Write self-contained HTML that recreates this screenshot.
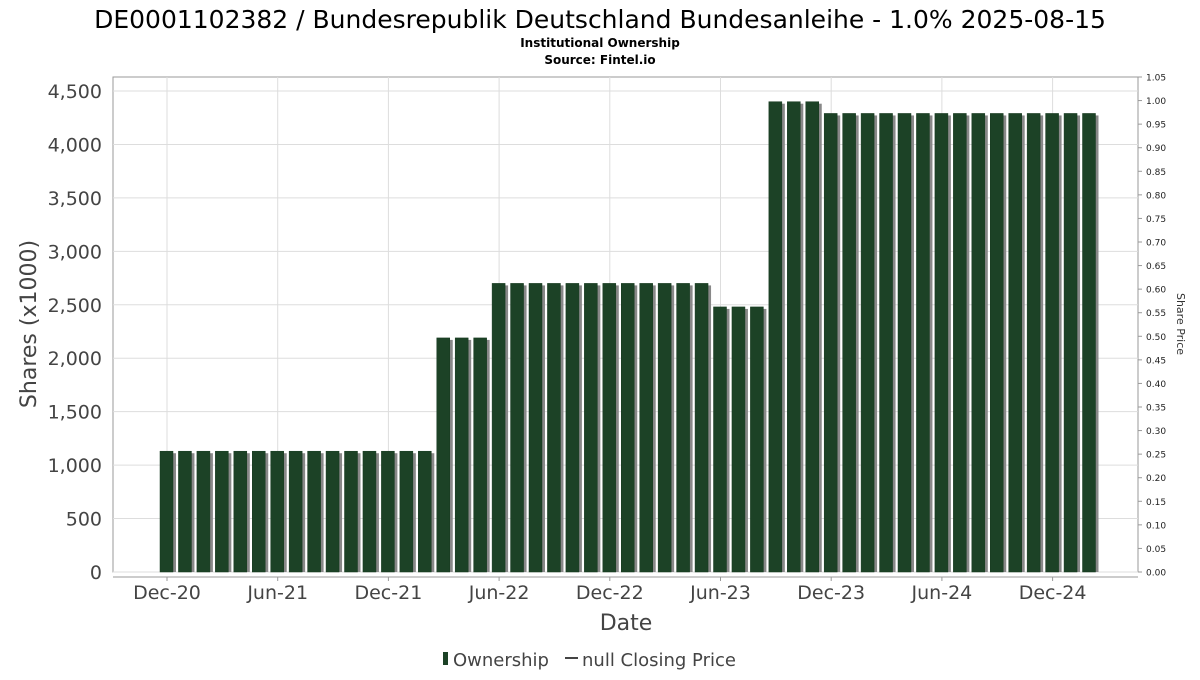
<!DOCTYPE html>
<html><head><meta charset="utf-8"><style>
body{margin:0;background:#fff;}
svg text{font-family:"DejaVu Sans","Liberation Sans",sans-serif;}
</style></head><body>
<svg id="chart" width="1200" height="675" xmlns="http://www.w3.org/2000/svg">
<text x="600" y="28" text-anchor="middle" font-size="25" fill="#000">DE0001102382 / Bundesrepublik Deutschland Bundesanleihe - 1.0% 2025-08-15</text>
<text x="600" y="47" text-anchor="middle" font-size="12" font-weight="bold">Institutional Ownership</text>
<text x="600" y="64" text-anchor="middle" font-size="12" font-weight="bold">Source: Fintel.io</text>
<rect x="113" y="77" width="1025" height="495" fill="#fff" stroke="#999"/>
<g id="grid"></g>
<g id="bars"></g>
<g id="yaxis"></g>
<g id="raxis"></g>
<g id="xaxis"></g>
<line x1="113" y1="577" x2="1138" y2="577" stroke="#999"/>
<text transform="translate(36,324) rotate(-90)" text-anchor="middle" font-size="22" fill="#444">Shares (x1000)</text>
<text transform="translate(1177,324) rotate(90)" text-anchor="middle" font-size="11" fill="#333">Share Price</text>
<text x="626" y="630" text-anchor="middle" font-size="22" fill="#444">Date</text>
<g>
<rect x="443" y="652" width="5" height="13" fill="#1c4226"/>
<text x="453" y="666" font-size="18" fill="#444">Ownership</text>
<line x1="565" y1="658" x2="578" y2="658" stroke="#444" stroke-width="2"/>
<text x="582" y="666" font-size="18" fill="#444">null Closing Price</text>
</g>
</svg>
<script>
const values = [1130,1130,1130,1130,1130,1130,1130,1130,1130,1130,1130,1130,1130,1130,1130,
2190,2190,2190,
2700,2700,2700,2700,2700,2700,2700,2700,2700,2700,2700,2700,
2480,2480,2480,
4400,4400,4400,
4290,4290,4290,4290,4290,4290,4290,4290,4290,4290,4290,4290,4290,4290,4290];
const yTicks = [0,500,1000,1500,2000,2500,3000,3500,4000,4500];
const rTicks = [0,0.05,0.1,0.15,0.2,0.25,0.3,0.35,0.4,0.45,0.5,0.55,0.6,0.65,0.7,0.75,0.8,0.85,0.9,0.95,1.0,1.05];
const xLabels = ["Dec-20","Jun-21","Dec-21","Jun-22","Dec-22","Jun-23","Dec-23","Jun-24","Dec-24"];
const xLabelIdx = [0,6,12,18,24,30,36,42,48];
const NS="http://www.w3.org/2000/svg";
const y=v=>572-v*(481/4500);
const ry=v=>572-v*(495/1.05);
const x=i=>167+i*18.45;
function mk(tag,attrs,parent,txt){const e=document.createElementNS(NS,tag);for(const k in attrs)e.setAttribute(k,attrs[k]);if(txt!==undefined)e.textContent=txt;parent.appendChild(e);return e;}
const grid=document.getElementById('grid'),bars=document.getElementById('bars'),ya=document.getElementById('yaxis'),ra=document.getElementById('raxis'),xa=document.getElementById('xaxis');
yTicks.forEach(t=>{
 const l=mk('line',{x1:113,x2:1138,y1:y(t),y2:y(t),stroke:'#ddd'},grid);
 
 
 const tx=mk('text',{x:102,y:y(t)+7,'text-anchor':'end','font-size':19,fill:'#444'},ya,t.toLocaleString('en-US'));
 
 
});
rTicks.forEach(t=>{
 const l=mk('line',{x1:1138,x2:1142,y1:ry(t),y2:ry(t),stroke:'#999'},ra);
 
 
 const tx=mk('text',{x:1146,y:ry(t)+3.5,'font-size':9,fill:'#222'},ra,t.toFixed(2));
 
 
});
xLabelIdx.forEach((idx,k)=>{
 const l=mk('line',{x1:x(idx),x2:x(idx),y1:77,y2:572,stroke:'#ddd'},grid);
 
 
 const tk=mk('line',{x1:x(idx),x2:x(idx),y1:577,y2:581,stroke:'#999'},xa);
 
 
 const tx=mk('text',{x:x(idx),y:599,'text-anchor':'middle','font-size':19,fill:'#444'},xa,xLabels[k]);
 
 
});
values.forEach((v,i)=>{
 const s=mk('rect',{x:x(i)-4,y:y(v)+2,width:13,height:572-y(v)-2,fill:'#888'},bars);
 
 
 const b=mk('rect',{x:x(i)-7,y:y(v),width:13,height:572-y(v),fill:'#1c4226',stroke:'#173a20','stroke-width':0.5},bars);
 
 
});
</script>
</body></html>
